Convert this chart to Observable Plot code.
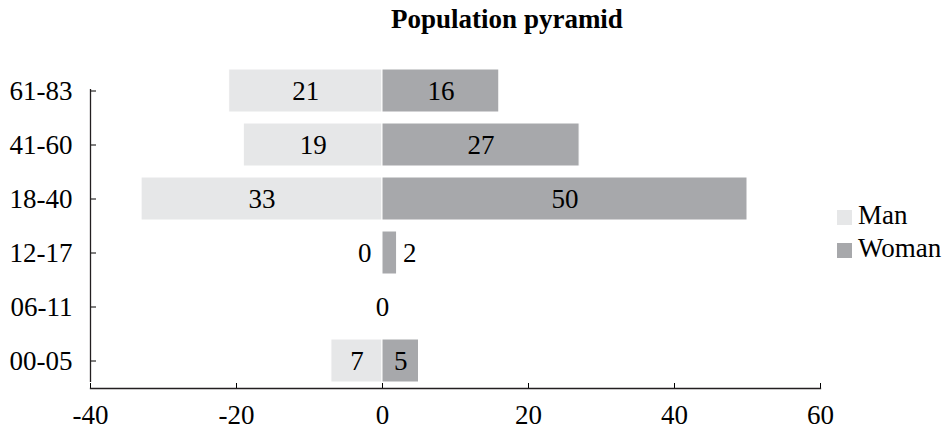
<!DOCTYPE html>
<html><head><meta charset="utf-8">
<script src="https://cdn.jsdelivr.net/npm/d3@7"></script>
<script src="https://cdn.jsdelivr.net/npm/@observablehq/plot@0.6"></script>
<style>
body{margin:0;background:#fff;font-family:"Liberation Serif",serif;color:#000;}
#wrap{position:relative;width:950px;height:429px;overflow:hidden;}
#title{position:absolute;left:307px;width:400px;top:4px;text-align:center;font-weight:bold;font-size:27px;}
#legend{position:absolute;left:837px;top:199px;font-size:27px;line-height:33px;}
#legend .item{display:flex;align-items:center;}
#legend .sw{width:15px;height:15px;margin-right:6px;margin-top:4px;}
svg text{font-family:"Liberation Serif",serif;}
</style></head>
<body>
<div id="wrap">
<div id="chart"></div>
<div id="title">Population pyramid</div>
<div id="legend"></div>
</div>
<script>
const ageGroups = ["61-83","41-60","18-40","12-17","06-11","00-05"];
const manValues = [21,19,33,0,0,7];
const womanValues = [16,27,50,2,0,5];
const xTicks = [-40,-20,0,20,40,60];
const seriesNames = ["Man","Woman"];
const seriesColors = ["#e6e7e8","#a7a8ab"];

const rows = ageGroups.flatMap((g,i)=>[
  {age:g, sex:"Man", value:manValues[i], x1:-manValues[i], x2:0, both0: manValues[i]===0 && womanValues[i]===0},
  {age:g, sex:"Woman", value:womanValues[i], x1:0, x2:womanValues[i], both0: manValues[i]===0 && womanValues[i]===0}
]);
const inside = rows.filter(d=>d.value>=5);
const manSmall = rows.filter(d=>d.sex==="Man" && d.value<5 && !d.both0);
const womanSmall = rows.filter(d=>d.sex==="Woman" && d.value<5 && !d.both0);
const zeroBoth = rows.filter(d=>d.sex==="Man" && d.both0);

const axisColor = "#231f20";
const chart = Plot.plot({
  width:950, height:429,
  marginLeft:90, marginRight:130, marginTop:64, marginBottom:41,
  style:"font-family:'Liberation Serif',serif;font-size:27px;background:transparent;color:#000;",
  x:{domain:[-40,60], ticks:xTicks, tickFormat:d=>String(d), tickSize:-5, tickPadding:21, label:null},
  y:{domain:ageGroups, paddingInner:0.2, paddingOuter:0.1, tickSize:-6, tickPadding:24, label:null},
  color:{domain:seriesNames, range:seriesColors},
  marks:[
    Plot.barX(rows.filter(d=>d.value>0), {y:"age", x1:"x1", x2:"x2", fill:"sex", stroke:"#fff", strokeWidth:1}),
    Plot.text(inside, {y:"age", x:d=>(d.x1+d.x2)/2, text:d=>String(d.value), fill:"#000"}),
    Plot.text(manSmall, {y:"age", x:0, text:d=>String(d.value), textAnchor:"end", dx:-11, fill:"#000"}),
    Plot.text(womanSmall, {y:"age", x:"x2", text:d=>String(d.value), textAnchor:"start", dx:6, fill:"#000"}),
    Plot.text(zeroBoth, {y:"age", x:0, text:()=>"0", fill:"#000"}),
    Plot.frame({anchor:"bottom", stroke:axisColor, strokeWidth:1.3}),
    Plot.ruleX([-40], {x:d=>d, y1:()=>ageGroups[0], y2:()=>ageGroups[ageGroups.length-1], insetTop:20, stroke:axisColor, strokeWidth:1.3})
  ]
});
document.getElementById("chart").appendChild(chart);

const legend = document.getElementById("legend");
seriesNames.forEach((n,i)=>{
  const it = document.createElement("div"); it.className="item";
  const sw = document.createElement("div"); sw.className="sw"; sw.style.background=seriesColors[i];
  const tx = document.createElement("span"); tx.textContent=n;
  it.appendChild(sw); it.appendChild(tx); legend.appendChild(it);
});
</script>
</body></html>
